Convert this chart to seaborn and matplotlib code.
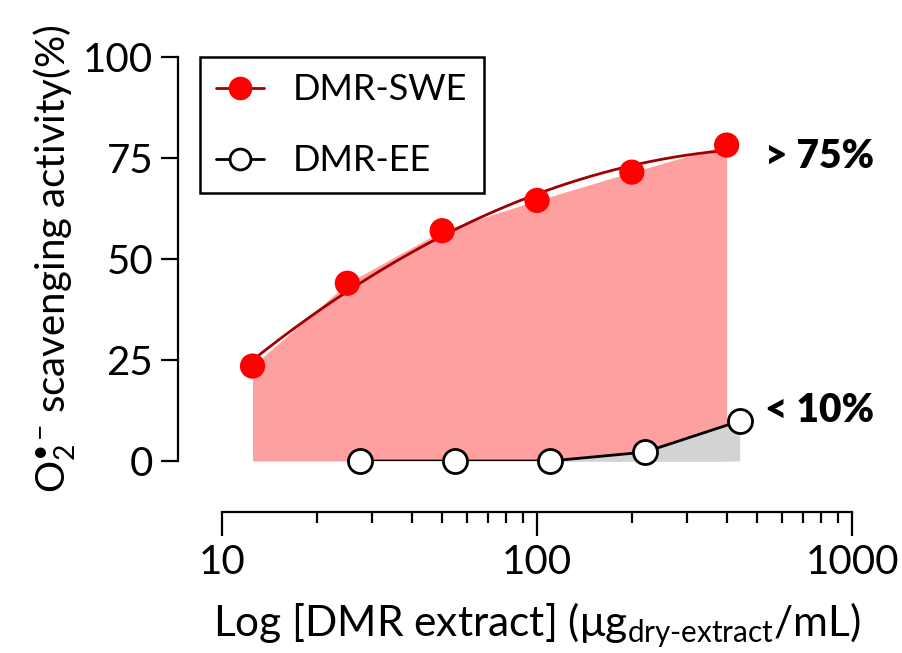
import numpy as np
import pandas as pd
import matplotlib
matplotlib.use("Agg")
import matplotlib.pyplot as plt
from matplotlib.lines import Line2D
import seaborn as sns

# ---- data ----
swe_conc = [12.5, 25, 50, 100, 200, 400]
swe_act = [23.5, 44.0, 57.0, 64.5, 71.5, 78.2]
ee_conc = [27.5, 55, 110, 220, 440]
ee_act = [0.0, 0.0, 0.0, 2.2, 9.9]
y_ticks = [0, 25, 50, 75, 100]
x_ticks = [10, 100, 1000]
x_ticklabels = ["10", "100", "1000"]
series_names = ["DMR-SWE", "DMR-EE"]

sns.set_theme(style="ticks")
FONT = "Lato"
plt.rcParams["font.family"] = [FONT, "DejaVu Sans"]
plt.rcParams["mathtext.fontset"] = "custom"
plt.rcParams["mathtext.rm"] = FONT
plt.rcParams["mathtext.it"] = FONT + ":italic"
plt.rcParams["mathtext.bf"] = FONT + ":bold"
plt.rcParams["text.color"] = "black"
plt.rcParams["axes.labelcolor"] = "black"

fig = plt.figure(figsize=(9.02, 6.53), dpi=100)
ax = fig.add_axes([222 / 902, 1 - 461 / 653, 630 / 902, 404 / 653])

swe = pd.DataFrame({"conc": swe_conc, "act": swe_act})
ee = pd.DataFrame({"conc": ee_conc, "act": ee_act})

# fills under data
ax.fill_between(swe["conc"], 0, swe["act"], color="#FFA0A0", lw=0, zorder=1)
ax.fill_between(ee["conc"], 0, ee["act"], color="#D3D3D3", lw=0, zorder=1)

# fitted curve for SWE (quadratic in log concentration, fitted to the data)
coef = np.polyfit(np.log10(swe["conc"]), swe["act"], 2)
xf = np.logspace(np.log10(swe["conc"].min()), np.log10(swe["conc"].max()), 200)
fit = pd.DataFrame({"conc": xf, "act": np.polyval(coef, np.log10(xf))})
sns.lineplot(data=fit, x="conc", y="act", ax=ax, color="#A00000", lw=2, zorder=3)
sns.lineplot(data=ee, x="conc", y="act", ax=ax, color="black", lw=2, zorder=3)

sns.scatterplot(data=swe, x="conc", y="act", ax=ax, color="#FF0000", s=330,
                edgecolor="none", zorder=4, clip_on=False)
sns.scatterplot(data=ee, x="conc", y="act", ax=ax, facecolor="white",
                edgecolor="black", linewidth=2, s=300, zorder=4, clip_on=False)

ax.set_xscale("log")
ax.set_xlim(10, 1000)
ax.set_ylim(0, 100)
ax.set_yticks(y_ticks)
ax.set_xticks(x_ticks)
ax.set_xticklabels(x_ticklabels)

for side in ["top", "right"]:
    ax.spines[side].set_visible(False)
ax.spines["left"].set_position(("outward", 31.5))
ax.spines["bottom"].set_position(("outward", 37))
ax.spines["left"].set_bounds(0, 100)
ax.spines["bottom"].set_bounds(10, 1000)
for s in ["left", "bottom"]:
    ax.spines[s].set_linewidth(1.6)
    ax.spines[s].set_color("black")

ax.tick_params(axis="both", which="major", labelsize=29, width=1.6,
               length=12, color="black", labelcolor="black", pad=6)
ax.tick_params(axis="x", which="minor", width=1.6, length=8, color="black")
ax.tick_params(axis="x", which="major", length=17)

ax.set_xlabel(r"Log [DMR extract] ($\mathregular{\mu}$g$_{\mathregular{dry\text{-}extract}}$/mL)",
              fontsize=30.5, labelpad=14, color="black")
ax.set_ylabel(r"O$_2^{\mathregular{•}\,\mathregular{-}}$ scavenging activity(%)",
              fontsize=29, labelpad=4, color="black")

ax.text((765 - 222) / 630, (461 - 157) / 404, "> 75%", fontsize=28,
        fontweight="heavy", va="center", ha="left", transform=ax.transAxes,
        color="black")
ax.text((765 - 222) / 630, (461 - 410) / 404, "< 10%", fontsize=28,
        fontweight="heavy", va="center", ha="left", transform=ax.transAxes,
        color="black")

handles = [
    Line2D([0], [0], color="#A00000", lw=2, marker="o", markersize=16,
           markerfacecolor="#FF0000", markeredgecolor="#FF0000"),
    Line2D([0], [0], color="black", lw=2, marker="o", markersize=15,
           markerfacecolor="white", markeredgecolor="black", markeredgewidth=2),
]
leg = ax.legend(handles, series_names, loc="upper left",
                bbox_to_anchor=((200 - 222) / 630, (461 - 57) / 404),
                borderaxespad=0, fontsize=26, frameon=True, fancybox=False,
                edgecolor="black", framealpha=1, handlelength=1.33,
                handletextpad=0.8, borderpad=0.45, labelspacing=1.05)
leg.get_frame().set_linewidth(1.8)
leg.get_frame().set_edgecolor("black")
for t in leg.get_texts():
    t.set_color("black")

fig.savefig("out.png", dpi=100)
